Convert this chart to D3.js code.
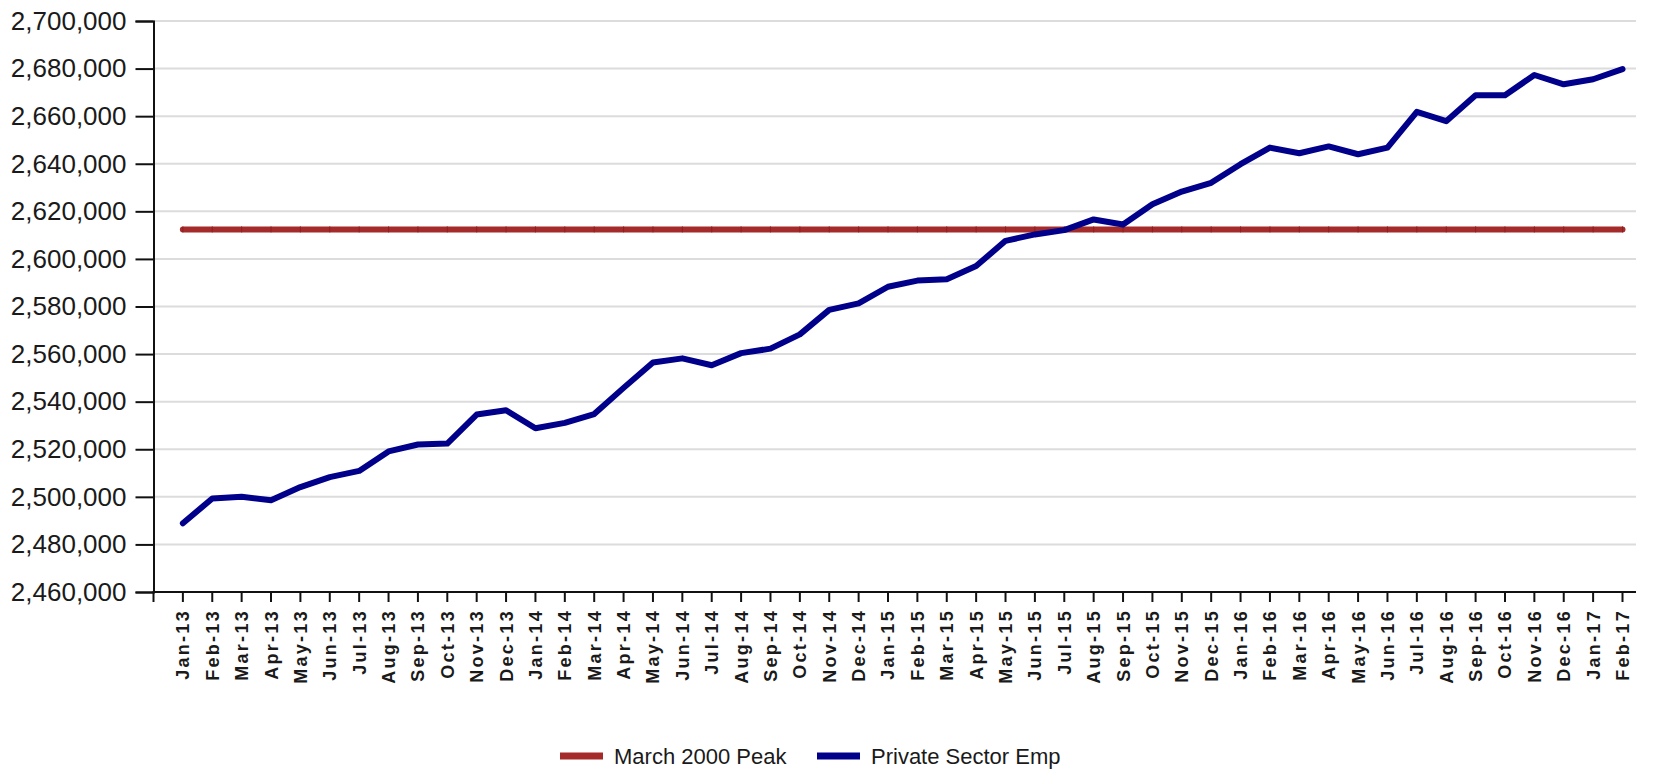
<!DOCTYPE html>
<html>
<head>
<meta charset="utf-8">
<script src="https://cdn.jsdelivr.net/npm/d3@7"></script>
<style>
  body { margin: 0; background: #fff; }
  svg { display: block; font-family: "Liberation Sans", Arial, sans-serif; }
  .ylab { font-size: 26px; fill: #1a1a1a; }
  .xlab { font-size: 18px; font-weight: bold; fill: #1a1a1a; letter-spacing: 2.3px; }
  .leg { font-size: 22px; fill: #1a1a1a; }
</style>
</head>
<body>
<svg id="chart" width="1657" height="770"></svg>
<script>
const months = [
  "Jan-13","Feb-13","Mar-13","Apr-13","May-13","Jun-13","Jul-13","Aug-13","Sep-13","Oct-13","Nov-13","Dec-13",
  "Jan-14","Feb-14","Mar-14","Apr-14","May-14","Jun-14","Jul-14","Aug-14","Sep-14","Oct-14","Nov-14","Dec-14",
  "Jan-15","Feb-15","Mar-15","Apr-15","May-15","Jun-15","Jul-15","Aug-15","Sep-15","Oct-15","Nov-15","Dec-15",
  "Jan-16","Feb-16","Mar-16","Apr-16","May-16","Jun-16","Jul-16","Aug-16","Sep-16","Oct-16","Nov-16","Dec-16",
  "Jan-17","Feb-17"
];

const privateEmp = [
  2488900, 2499300, 2500000, 2498600, 2504100, 2508300, 2510900, 2519100, 2522000, 2522400, 2534600, 2536400,
  2528800, 2531100, 2534800, 2545800, 2556500, 2558200, 2555300, 2560400, 2562300, 2568300, 2578600, 2581300,
  2588300, 2590900, 2591500, 2597000, 2607600, 2610300, 2612100, 2616600, 2614500, 2623000, 2628300, 2632000,
  2639800, 2646800, 2644400, 2647300, 2644000, 2646800, 2661800, 2657900, 2668800, 2668800, 2677300, 2673400,
  2675500, 2679800
];

const marchPeak = 2612400;

const yTicks = [2460000, 2480000, 2500000, 2520000, 2540000, 2560000, 2580000, 2600000,
                2620000, 2640000, 2660000, 2680000, 2700000];

const plot = {left: 153.5, right: 1636, top: 21, bottom: 592};
const step = 29.38;

const svg = d3.select("#chart");

// categories: one step padding on the left, half a step on the right
const x = d3.scalePoint()
  .domain(months)
  .range([plot.left + step, plot.left + step * months.length]);

const y = d3.scaleLinear()
  .domain([2460000, 2700000])
  .range([plot.bottom, plot.top]);

const fmt = d3.format(",");

// gridlines
svg.append("g")
  .selectAll("line")
  .data(yTicks.slice(1))
  .enter().append("line")
  .attr("x1", plot.left)
  .attr("x2", plot.right)
  .attr("y1", d => y(d))
  .attr("y2", d => y(d))
  .attr("stroke", "#dcdcdc")
  .attr("stroke-width", 2);

// y axis
const yAxis = svg.append("g")
  .attr("transform", `translate(${plot.left},0)`)
  .call(d3.axisLeft(y).tickValues(yTicks).tickFormat(fmt).tickSize(18).tickPadding(9));
yAxis.select(".domain").attr("stroke", "#111").attr("stroke-width", 2);
yAxis.selectAll(".tick line").attr("stroke", "#111").attr("stroke-width", 2);
yAxis.selectAll(".tick text").attr("class", "ylab").attr("font-size", null).attr("font-family", null);

// x axis
const xAxisG = svg.append("g");
xAxisG.append("line")
  .attr("x1", plot.left - 1).attr("x2", plot.right)
  .attr("y1", plot.bottom).attr("y2", plot.bottom)
  .attr("stroke", "#111").attr("stroke-width", 2);
xAxisG.append("line")
  .attr("x1", plot.left).attr("x2", plot.left)
  .attr("y1", plot.bottom).attr("y2", plot.bottom + 10)
  .attr("stroke", "#111").attr("stroke-width", 2);
xAxisG.selectAll(".xt")
  .data(months)
  .enter().append("line")
  .attr("class", "xt")
  .attr("x1", d => x(d)).attr("x2", d => x(d))
  .attr("y1", plot.bottom).attr("y2", plot.bottom + 10)
  .attr("stroke", "#111").attr("stroke-width", 2);
xAxisG.selectAll(".xlab")
  .data(months)
  .enter().append("text")
  .attr("class", "xlab")
  .attr("transform", d => `translate(${x(d)},${plot.bottom + 17}) rotate(-90)`)
  .attr("text-anchor", "end")
  .attr("dy", "0.36em")
  .text(d => d);

// March 2000 peak
const peakLine = d3.line()
  .x(d => x(d))
  .y(() => y(marchPeak));
svg.append("path")
  .datum(months)
  .attr("d", peakLine)
  .attr("fill", "none")
  .attr("stroke", "#a52a2a")
  .attr("stroke-width", 6)
  .attr("stroke-linecap", "round");
svg.append("g")
  .selectAll("line")
  .data(months)
  .enter().append("line")
  .attr("x1", d => x(d)).attr("x2", d => x(d))
  .attr("y1", y(marchPeak) - 3).attr("y2", y(marchPeak) + 3)
  .attr("stroke", "#8c1f1f")
  .attr("stroke-width", 1);

// private sector employment
const empLine = d3.line()
  .x((d, i) => x(months[i]))
  .y(d => y(d));
svg.append("path")
  .datum(privateEmp)
  .attr("d", empLine)
  .attr("fill", "none")
  .attr("stroke", "#00008b")
  .attr("stroke-width", 6)
  .attr("stroke-linejoin", "round")
  .attr("stroke-linecap", "round");

// legend
const legend = [
  {name: "March 2000 Peak", color: "#a52a2a", x: 560},
  {name: "Private Sector Emp", color: "#00008b", x: 817}
];
const lg = svg.append("g").selectAll("g")
  .data(legend)
  .enter().append("g")
  .attr("transform", d => `translate(${d.x},756)`);
lg.append("rect")
  .attr("x", 0).attr("y", -3.5)
  .attr("width", 43).attr("height", 7)
  .attr("fill", d => d.color);
lg.append("text")
  .attr("class", "leg")
  .attr("x", 54)
  .attr("dy", "0.36em")
  .text(d => d.name);
</script>
</body>
</html>
